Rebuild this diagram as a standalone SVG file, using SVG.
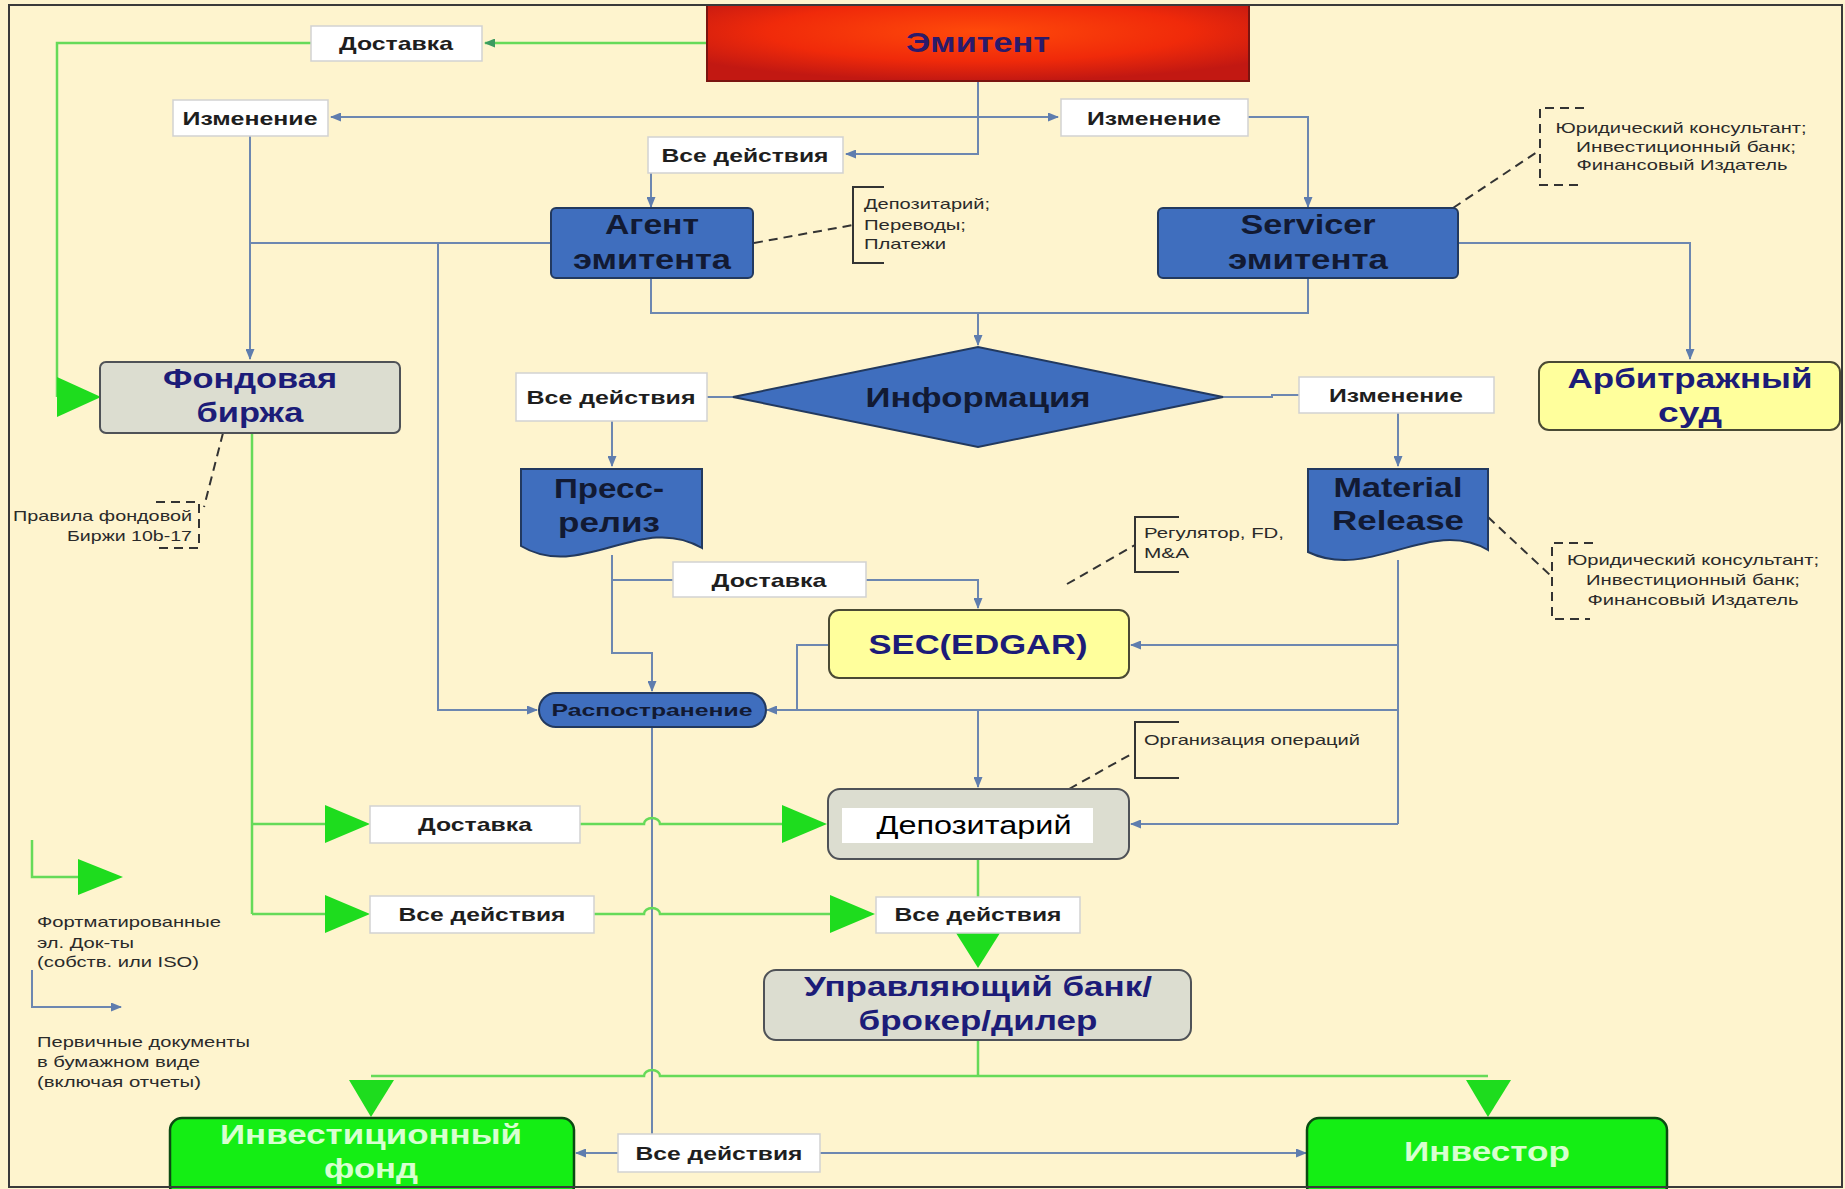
<svg xmlns="http://www.w3.org/2000/svg" width="1845" height="1189" viewBox="0 0 1845 1189">
<defs>
<radialGradient id="gRed" cx="0.5" cy="0.35" r="0.65">
<stop offset="0" stop-color="#FF4A0A"/>
<stop offset="0.6" stop-color="#F02A0A"/>
<stop offset="1" stop-color="#C21812"/>
</radialGradient>
<marker id="ab" markerUnits="userSpaceOnUse" markerWidth="11" markerHeight="9" refX="10" refY="4.5" orient="auto">
<path d="M0,0 L11,4.5 L0,9 z" fill="#5F7DAE"/>
</marker>
<marker id="ag" markerUnits="userSpaceOnUse" markerWidth="11" markerHeight="9" refX="10" refY="4.5" orient="auto">
<path d="M0,0 L11,4.5 L0,9 z" fill="#3C9A60"/>
</marker>
<style>
.bg{fill:#FEF4CE}
.frame{fill:none;stroke:#3a3a3a;stroke-width:2}
.blue{fill:#3F6EBE;stroke:#22395F;stroke-width:2}
.grey{fill:#DCDDD0;stroke:#4F5257;stroke-width:2}
.yel{fill:#FFFF9C;stroke:#4A4A34;stroke-width:2}
.grn{fill:#14EE14;stroke:#0B4A12;stroke-width:2.5}
.lbox{fill:#FFFFFF;stroke:#D2D2D2;stroke-width:1.5}
.c{fill:none;stroke:#6D87B0;stroke-width:2}
.cg{fill:none;stroke:#66DA58;stroke-width:2.5}
.tri{fill:#1EDC1E}
.dash{fill:none;stroke:#333;stroke-width:2;stroke-dasharray:9,6}
.brk{fill:none;stroke:#333;stroke-width:2}
text{font-family:"Liberation Sans",Arial,sans-serif}
.lbl{font-size:19px;font-weight:bold;fill:#1E1E1E;text-anchor:middle}
.big{font-size:28px;font-weight:bold;text-anchor:middle}
.dk{fill:#121A33}
.nv{fill:#1C1C78}
.lt{fill:#D8FFD0}
.sm{font-size:15px;fill:#2A2A2A}
.mid{text-anchor:middle}
.end{text-anchor:end}
</style>
</defs>
<rect class="bg" x="0" y="0" width="1845" height="1189"/>
<rect class="frame" x="9" y="5" width="1833" height="1182"/>

<g id="connectors">
<!-- Emitent to top Dostavka (green) and on to stock exchange -->
<path class="cg" d="M707,43 H485" marker-end="url(#ag)"/>
<path class="cg" d="M311,43 H57 V397"/>
<polygon class="tri" points="57,377 101,397 57,417"/>
<!-- Emitent vertical and Izmenenie line -->
<path class="c" d="M978,81 V154 H846" marker-end="url(#ab)"/>
<path class="c" d="M978,117 H331" marker-end="url(#ab)"/>
<path class="c" d="M978,117 H1058" marker-end="url(#ab)"/>
<path class="c" d="M651,173 V207" marker-end="url(#ab)"/>
<path class="c" d="M250,136 V359" marker-end="url(#ab)"/>
<path class="c" d="M250,243 H551"/>
<path class="c" d="M438,243 V710 H537" marker-end="url(#ab)"/>
<path class="c" d="M1248,117 H1308 V207" marker-end="url(#ab)"/>
<path class="c" d="M1458,243 H1690 V359" marker-end="url(#ab)"/>
<path class="c" d="M651,278 V313 H1308 V278"/>
<path class="c" d="M978,313 V345" marker-end="url(#ab)"/>
<!-- Information diamond -->
<path class="c" d="M733,397 H707"/>
<path class="c" d="M612,421 V466" marker-end="url(#ab)"/>
<path class="c" d="M1223,397 H1272 V395 H1299"/>
<path class="c" d="M1398,413 V466" marker-end="url(#ab)"/>
<!-- Press release -->
<path class="c" d="M612,555 V653 H652 V691" marker-end="url(#ab)"/>
<path class="c" d="M612,580 H673"/>
<path class="c" d="M866,580 H978 V608" marker-end="url(#ab)"/>
<!-- SEC left to dissemination -->
<path class="c" d="M829,645 H797 V710"/>
<!-- Material release -->
<path class="c" d="M1398,560 V824"/>
<path class="c" d="M1398,645 H1131" marker-end="url(#ab)"/>
<path class="c" d="M1398,710 H767" marker-end="url(#ab)"/>
<path class="c" d="M1398,824 H1131" marker-end="url(#ab)"/>
<path class="c" d="M978,710 V787" marker-end="url(#ab)"/>
<!-- Dissemination down -->
<path class="c" d="M652,727 V1135"/>
<path class="c" d="M618,1153 H576" marker-end="url(#ab)"/>
<path class="c" d="M820,1153 H1306" marker-end="url(#ab)"/>
<!-- Green from stock exchange -->
<path class="cg" d="M252,433 V914"/>
<path class="cg" d="M252,824 H326"/>
<polygon class="tri" points="325,805 370,824 325,843"/>
<path class="cg" d="M252,914 H326"/>
<polygon class="tri" points="325,895 370,914 325,933"/>
<path class="cg" d="M580,824 H644 A8,6 0 0 1 660,824 H784"/>
<polygon class="tri" points="782,805 827,824 782,843"/>
<path class="cg" d="M594,914 H644 A8,6 0 0 1 660,914 H832"/>
<polygon class="tri" points="830,895 875,914 830,933"/>
<path class="cg" d="M978,859 V897"/>
<polygon class="tri" points="956,933 1000,933 978,968"/>
<path class="cg" d="M978,1040 V1076"/>
<path class="cg" d="M371,1076 H644 A8,6 0 0 1 660,1076 H1488"/>
<polygon class="tri" points="349,1080 394,1080 371,1117"/>
<polygon class="tri" points="1466,1080 1511,1080 1488,1117"/>
<!-- Dashed annotations -->
<path class="dash" d="M754,243 L853,225"/>
<path class="brk" d="M884,187 H853 V263 H884"/>
<path class="dash" d="M1453,208 L1537,152"/>
<path class="dash" d="M1584,108 H1540 V185 H1580"/>
<path class="dash" d="M1488,517 L1550,575"/>
<path class="dash" d="M1593,543 H1552 V619 H1590"/>
<path class="dash" d="M1067,584 L1135,545"/>
<path class="brk" d="M1179,517 H1135 V572 H1179"/>
<path class="dash" d="M1069,789 L1135,752"/>
<path class="brk" d="M1179,722 H1135 V778 H1179"/>
<path class="dash" d="M223,433 L204,507"/>
<path class="dash" d="M156,502 H199 V548 H156"/>
<!-- Legend -->
<path class="cg" d="M32,840 V877 H80"/>
<polygon class="tri" points="78,859 123,877 78,895"/>
<path class="c" d="M32,970 V1007 H121" marker-end="url(#ab)"/>
</g>

<g id="n-emitent">
<rect x="707" y="5" width="542" height="76" fill="url(#gRed)" stroke="#7A1410" stroke-width="2"/>
<text class="big" x="978" y="52" fill="#2B1A6B" textLength="144" lengthAdjust="spacingAndGlyphs">Эмитент</text>
</g>
<g id="l-dostavka-top">
<rect class="lbox" x="311" y="26" width="171" height="35"/>
<text class="lbl" x="396" y="50" textLength="114" lengthAdjust="spacingAndGlyphs">Доставка</text>
</g>
<g id="l-izm-left">
<rect class="lbox" x="173" y="100" width="155" height="36"/>
<text class="lbl" x="250" y="125" textLength="135" lengthAdjust="spacingAndGlyphs">Изменение</text>
</g>
<g id="l-izm-right">
<rect class="lbox" x="1061" y="99" width="187" height="37"/>
<text class="lbl" x="1154" y="125" textLength="134" lengthAdjust="spacingAndGlyphs">Изменение</text>
</g>
<g id="l-vse-top">
<rect class="lbox" x="648" y="137" width="195" height="36"/>
<text class="lbl" x="745" y="162" textLength="167" lengthAdjust="spacingAndGlyphs">Все действия</text>
</g>
<g id="n-agent">
<rect class="blue" x="551" y="208" width="202" height="70" rx="5"/>
<text class="big dk" x="652" y="234" textLength="94" lengthAdjust="spacingAndGlyphs">Агент</text>
<text class="big dk" x="652" y="269" textLength="158" lengthAdjust="spacingAndGlyphs">эмитента</text>
</g>
<g id="a-agent">
<text class="sm" x="864" y="209" textLength="126" lengthAdjust="spacingAndGlyphs">Депозитарий;</text>
<text class="sm" x="864" y="230" textLength="102" lengthAdjust="spacingAndGlyphs">Переводы;</text>
<text class="sm" x="864" y="249" textLength="82" lengthAdjust="spacingAndGlyphs">Платежи</text>
</g>
<g id="n-servicer">
<rect class="blue" x="1158" y="208" width="300" height="70" rx="5"/>
<text class="big dk" x="1308" y="234" textLength="135" lengthAdjust="spacingAndGlyphs">Servicer</text>
<text class="big dk" x="1308" y="269" textLength="160" lengthAdjust="spacingAndGlyphs">эмитента</text>
</g>
<g id="a-servicer">
<text class="sm mid" x="1681" y="133" textLength="251" lengthAdjust="spacingAndGlyphs">Юридический консультант;</text>
<text class="sm mid" x="1686" y="152" textLength="220" lengthAdjust="spacingAndGlyphs">Инвестиционный банк;</text>
<text class="sm mid" x="1682" y="170" textLength="211" lengthAdjust="spacingAndGlyphs">Финансовый Издатель</text>
</g>
<g id="n-arbitr">
<rect class="yel" x="1539" y="362" width="301" height="68" rx="10"/>
<text class="big nv" x="1690" y="388" textLength="245" lengthAdjust="spacingAndGlyphs">Арбитражный</text>
<text class="big nv" x="1690" y="422" textLength="64" lengthAdjust="spacingAndGlyphs">суд</text>
</g>
<g id="n-fond">
<rect class="grey" x="100" y="362" width="300" height="71" rx="6"/>
<text class="big nv" x="250" y="388" textLength="174" lengthAdjust="spacingAndGlyphs">Фондовая</text>
<text class="big nv" x="250" y="422" textLength="107" lengthAdjust="spacingAndGlyphs">биржа</text>
</g>
<g id="a-fond">
<text class="sm end" x="192" y="521" textLength="179" lengthAdjust="spacingAndGlyphs">Правила фондовой</text>
<text class="sm end" x="192" y="541" textLength="125" lengthAdjust="spacingAndGlyphs">Биржи 10b-17</text>
</g>
<g id="n-info">
<polygon class="blue" points="733,397 978,347 1223,397 978,447"/>
<text class="big dk" x="978" y="407" font-size="30" textLength="225" lengthAdjust="spacingAndGlyphs">Информация</text>
</g>
<g id="l-vse-mid">
<rect class="lbox" x="516" y="373" width="191" height="48"/>
<text class="lbl" x="611" y="404" textLength="169" lengthAdjust="spacingAndGlyphs">Все действия</text>
</g>
<g id="l-izm-mid">
<rect class="lbox" x="1299" y="377" width="195" height="36"/>
<text class="lbl" x="1396" y="402" textLength="134" lengthAdjust="spacingAndGlyphs">Изменение</text>
</g>
<g id="n-press">
<path class="blue" d="M521,469 H702 V548 C641,512 581,582 521,546 Z"/>
<text class="big dk" x="609" y="498" textLength="110" lengthAdjust="spacingAndGlyphs">Пресс-</text>
<text class="big dk" x="609" y="532" textLength="102" lengthAdjust="spacingAndGlyphs">релиз</text>
</g>
<g id="n-material">
<path class="blue" d="M1308,469 H1488 V550 C1430,516 1370,582 1308,552 Z"/>
<text class="big dk" x="1398" y="497" textLength="129" lengthAdjust="spacingAndGlyphs">Material</text>
<text class="big dk" x="1398" y="530" textLength="132" lengthAdjust="spacingAndGlyphs">Release</text>
</g>
<g id="a-material">
<text class="sm mid" x="1693" y="565" textLength="252" lengthAdjust="spacingAndGlyphs">Юридический консультант;</text>
<text class="sm mid" x="1693" y="585" textLength="214" lengthAdjust="spacingAndGlyphs">Инвестиционный банк;</text>
<text class="sm mid" x="1693" y="605" textLength="211" lengthAdjust="spacingAndGlyphs">Финансовый Издатель</text>
</g>
<g id="l-dost-mid">
<rect class="lbox" x="673" y="562" width="193" height="35"/>
<text class="lbl" x="769" y="587" textLength="115" lengthAdjust="spacingAndGlyphs">Доставка</text>
</g>
<g id="a-regulator">
<text class="sm" x="1144" y="538" textLength="140" lengthAdjust="spacingAndGlyphs">Регулятор, FD,</text>
<text class="sm" x="1144" y="558" textLength="45" lengthAdjust="spacingAndGlyphs">M&amp;A</text>
</g>
<g id="n-sec">
<rect class="yel" x="829" y="610" width="300" height="68" rx="10"/>
<text class="big nv" x="978" y="654" textLength="219" lengthAdjust="spacingAndGlyphs">SEC(EDGAR)</text>
</g>
<g id="n-rasp">
<rect class="blue" x="539" y="693" width="227" height="34" rx="17"/>
<text x="652" y="716" font-size="17" font-weight="bold" text-anchor="middle" class="dk" textLength="201" lengthAdjust="spacingAndGlyphs">Распостранение</text>
</g>
<g id="a-org">
<text class="sm" x="1144" y="745" textLength="216" lengthAdjust="spacingAndGlyphs">Организация операций</text>
</g>
<g id="n-depo">
<rect class="grey" x="828" y="789" width="301" height="70" rx="12"/>
<rect x="842" y="808" width="251" height="35" fill="#FFFFFF"/>
<text x="974" y="834" font-size="26" text-anchor="middle" fill="#000" textLength="195" lengthAdjust="spacingAndGlyphs">Депозитарий</text>
</g>
<g id="l-dost-low">
<rect class="lbox" x="370" y="806" width="210" height="37"/>
<text class="lbl" x="475" y="831" textLength="114" lengthAdjust="spacingAndGlyphs">Доставка</text>
</g>
<g id="l-vse-lowL">
<rect class="lbox" x="370" y="896" width="224" height="37"/>
<text class="lbl" x="482" y="921" textLength="167" lengthAdjust="spacingAndGlyphs">Все действия</text>
</g>
<g id="l-vse-lowR">
<rect class="lbox" x="876" y="897" width="204" height="36"/>
<text class="lbl" x="978" y="921" textLength="167" lengthAdjust="spacingAndGlyphs">Все действия</text>
</g>
<g id="n-bank">
<rect class="grey" x="764" y="970" width="427" height="70" rx="12"/>
<text class="big nv" x="978" y="996" textLength="348" lengthAdjust="spacingAndGlyphs">Управляющий банк/</text>
<text class="big nv" x="978" y="1030" textLength="239" lengthAdjust="spacingAndGlyphs">брокер/дилер</text>
</g>
<g id="n-invfund">
<rect class="grn" x="170" y="1118" width="404" height="80" rx="12"/>
<text class="big lt" x="371" y="1144" textLength="302" lengthAdjust="spacingAndGlyphs">Инвестиционный</text>
<text class="big lt" x="371" y="1178" textLength="94" lengthAdjust="spacingAndGlyphs">фонд</text>
</g>
<g id="n-investor">
<rect class="grn" x="1307" y="1118" width="360" height="80" rx="12"/>
<text class="big lt" x="1487" y="1161" textLength="166" lengthAdjust="spacingAndGlyphs">Инвестор</text>
</g>
<g id="l-vse-bottom">
<rect class="lbox" x="618" y="1134" width="202" height="38"/>
<text class="lbl" x="719" y="1160" textLength="167" lengthAdjust="spacingAndGlyphs">Все действия</text>
</g>
<g id="legend">
<text class="sm" x="37" y="927" textLength="184" lengthAdjust="spacingAndGlyphs">Фортматированные</text>
<text class="sm" x="37" y="948" textLength="97" lengthAdjust="spacingAndGlyphs">эл. Док-ты</text>
<text class="sm" x="37" y="967" textLength="162" lengthAdjust="spacingAndGlyphs">(собств. или ISO)</text>
<text class="sm" x="37" y="1047" textLength="213" lengthAdjust="spacingAndGlyphs">Первичные документы</text>
<text class="sm" x="37" y="1067" textLength="163" lengthAdjust="spacingAndGlyphs">в бумажном виде</text>
<text class="sm" x="37" y="1087" textLength="164" lengthAdjust="spacingAndGlyphs">(включая отчеты)</text>
</g>
<rect class="frame" x="9" y="5" width="1833" height="1182"/>
</svg>
